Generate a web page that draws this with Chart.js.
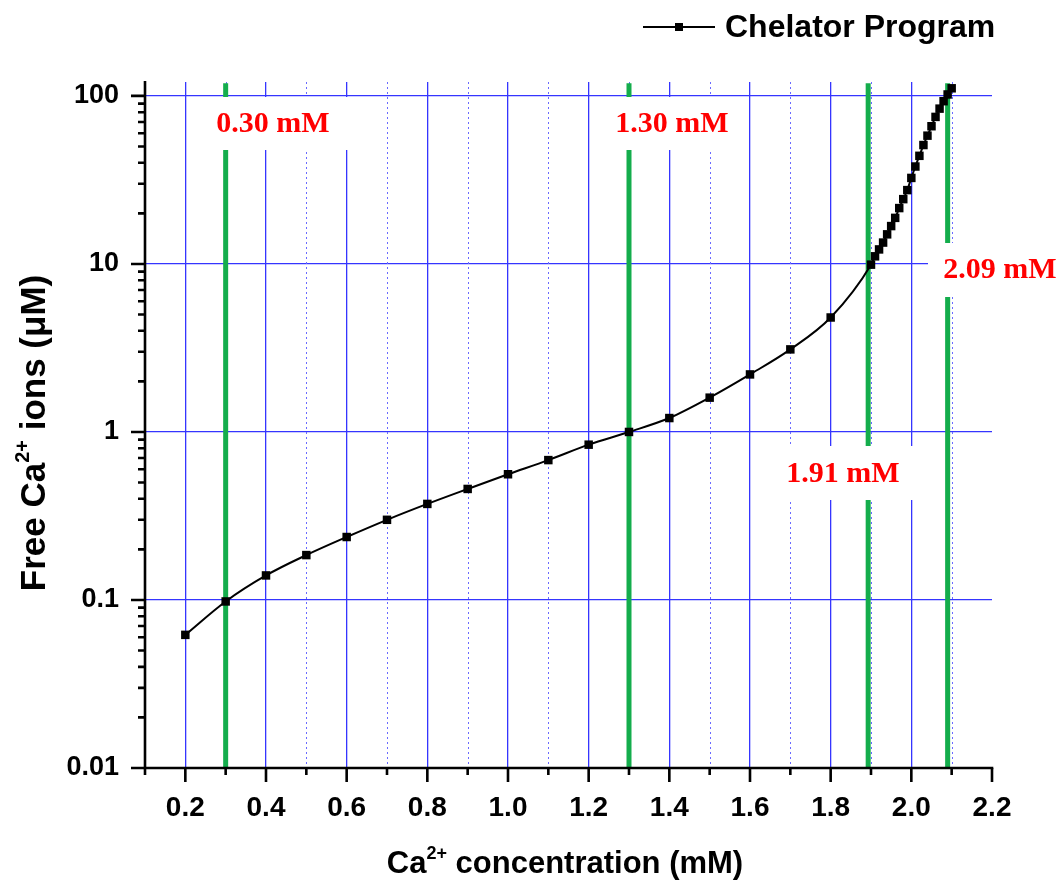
<!DOCTYPE html>
<html><head><meta charset="utf-8">
<script src="https://cdn.jsdelivr.net/npm/chart.js@4.4.1/dist/chart.umd.min.js"></script>
<style>html,body{margin:0;padding:0;background:#fff;}canvas{display:block;}</style>
</head><body>
<canvas id="c" width="1060" height="881"></canvas>
<script>
// ---- data ----
const caConc = [0.2,0.3,0.4,0.5,0.6,0.7,0.8,0.9,1.0,1.1,1.2,1.3,1.4,1.5,1.6,1.7,1.8,
  1.90,1.91,1.92,1.93,1.94,1.95,1.96,1.97,1.98,1.99,2.00,2.01,2.02,2.03,2.04,2.05,2.06,2.07,2.08,2.09,2.10];
const freeCa = [0.062,0.098,0.14,0.185,0.237,0.30,0.373,0.458,0.56,0.68,0.84,1.0,1.21,1.6,2.2,3.1,4.8,
  9.9,11.1,12.2,13.4,15.0,16.8,18.8,21.5,24.3,27.5,32.5,38,44,51,58,66,75,84,93,102,111];
const markerX = [0.30,1.30,1.893,2.09];
const markerLabels = ['0.30 mM','1.30 mM','1.91 mM','2.09 mM'];
const xTickValues = [0.2,0.4,0.6,0.8,1.0,1.2,1.4,1.6,1.8,2.0,2.2];
const xTickLabels = ['0.2','0.4','0.6','0.8','1.0','1.2','1.4','1.6','1.8','2.0','2.2'];
const xMinorValues = [0.1,0.3,0.5,0.7,0.9,1.1,1.3,1.5,1.7,1.9,2.1];
const yTickValues = [0.01,0.1,1,10,100];
const yTickLabels = ['0.01','0.1','1','10','100'];
const seriesName = 'Chelator Program';
const xTitle = ['Ca','2+',' concentration (mM)'];
const yTitle = ['Free Ca','2+',' ions (\u03BCM)'];

// ---- styling / layout ----
const BLUE = '#3535ff';
const GREEN = '#14ad4c';
const SANS = '"Liberation Sans", Arial, sans-serif';
const SERIF = '"Liberation Serif", "Times New Roman", serif';
const labelBoxes = [ // pixel boxes for the marker labels
  {x0:200,y0:97,x1:360,y1:150,tx:273,ty:124},
  {x0:598,y0:97,x1:746,y1:150,tx:672,ty:124},
  {x0:772,y0:446,x1:918,y1:500,tx:843,ty:474},
  {x0:928,y0:243,x1:1060,y1:297,tx:1000,ty:270}
];

const near = (a,b)=>Math.abs(a-b)<1e-6;

const datasets = [{
  label: seriesName,
  data: caConc.map((x,i)=>({x, y: freeCa[i]})),
  borderColor:'#000', backgroundColor:'#000', borderWidth:2,
  pointStyle:'rect', pointRadius:6, pointBorderWidth:0,
  cubicInterpolationMode:'monotone', fill:false
}];
markerX.forEach(mx=>{
  datasets.push({label:'m'+mx, data:[{x:mx,y:0.0101},{x:mx,y:119}], borderColor:GREEN, borderWidth:5,
    pointRadius:0, fill:false, tension:0});
});

const decor = {
  id:'decor',
  beforeDraw(chart){
    const ctx=chart.ctx; ctx.save(); ctx.fillStyle='#fff'; ctx.fillRect(0,0,chart.width,chart.height); ctx.restore();
  },
  beforeDatasetsDraw(chart){
    const ctx=chart.ctx, xs=chart.scales.x, a=chart.chartArea;
    ctx.save(); ctx.strokeStyle='#6a6aff'; ctx.lineWidth=1; ctx.setLineDash([2,3]);
    xMinorValues.forEach(v=>{ if (near(v,0.1)) return; const p=Math.round(xs.getPixelForValue(v))+0.5;
      ctx.beginPath(); ctx.moveTo(p,a.top); ctx.lineTo(p,a.bottom); ctx.stroke(); });
    ctx.restore();
  },
  afterDatasetsDraw(chart){
    const ctx=chart.ctx; ctx.save();
    labelBoxes.forEach((b,i)=>{
      ctx.fillStyle='#fff'; ctx.fillRect(b.x0,b.y0,b.x1-b.x0,b.y1-b.y0);
      ctx.fillStyle='#f00'; ctx.font='bold 30px '+SERIF; ctx.textAlign='center'; ctx.textBaseline='middle';
      ctx.fillText(markerLabels[i], b.tx, b.ty);
    });
    ctx.restore();
  },
  afterDraw(chart){
    const ctx=chart.ctx, xs=chart.scales.x, ys=chart.scales.y, a=chart.chartArea;
    ctx.save();
    ctx.strokeStyle='#000'; ctx.lineWidth=2.6; ctx.lineCap='butt';
    ctx.beginPath(); ctx.moveTo(a.left, a.top-1); ctx.lineTo(a.left, a.bottom+1.3);
    ctx.moveTo(a.left-1.3, a.bottom); ctx.lineTo(xs.getPixelForValue(2.2)+1.3, a.bottom); ctx.stroke();
    ctx.beginPath();
    xTickValues.forEach(v=>{const p=xs.getPixelForValue(v); ctx.moveTo(p,a.bottom); ctx.lineTo(p,a.bottom+14);});
    xMinorValues.forEach(v=>{const p=xs.getPixelForValue(v); ctx.moveTo(p,a.bottom); ctx.lineTo(p,a.bottom+7);});
    yTickValues.forEach(v=>{const p=ys.getPixelForValue(v); ctx.moveTo(a.left,p); ctx.lineTo(a.left-14,p);
      if (v<100) for(let k=2;k<=9;k++){const q=ys.getPixelForValue(v*k); ctx.moveTo(a.left,q); ctx.lineTo(a.left-7,q);} });
    ctx.stroke();
    const drawTitle=(parts,size,supSize,cx,cy,rot)=>{
      ctx.save(); ctx.translate(cx,cy); ctx.rotate(rot);
      ctx.fillStyle='#000'; ctx.textBaseline='alphabetic'; ctx.textAlign='left';
      ctx.font='bold '+size+'px '+SANS; const w0=ctx.measureText(parts[0]).width, w2=ctx.measureText(parts[2]).width;
      ctx.font='bold '+supSize+'px '+SANS; const w1=ctx.measureText(parts[1]).width;
      let x=-(w0+w1+w2)/2; const base=size*0.36;
      ctx.font='bold '+size+'px '+SANS; ctx.fillText(parts[0],x,base); x+=w0;
      ctx.font='bold '+supSize+'px '+SANS; ctx.fillText(parts[1],x,base-size*0.45); x+=w1;
      ctx.font='bold '+size+'px '+SANS; ctx.fillText(parts[2],x,base);
      ctx.restore();
    };
    drawTitle(xTitle,31,18,565,862,0);
    drawTitle(yTitle,35,20,32,433,-Math.PI/2);
    ctx.strokeStyle='#000'; ctx.lineWidth=2;
    ctx.beginPath(); ctx.moveTo(643,27); ctx.lineTo(715,27); ctx.stroke();
    ctx.fillStyle='#000'; ctx.fillRect(675,23,8,8);
    ctx.font='bold 32px '+SANS; ctx.textBaseline='middle'; ctx.textAlign='left';
    ctx.fillText(seriesName, 725, 28);
    ctx.restore();
  }
};

new Chart(document.getElementById('c'), {
  type:'line',
  data:{datasets},
  options:{
    responsive:false, animation:false, devicePixelRatio:1,
    layout:{padding:{top:82,right:68,left:0,bottom:0}},
    plugins:{legend:{display:false}, tooltip:{enabled:false}},
    scales:{
      x:{type:'linear', min:0.1, max:2.2,
        afterBuildTicks: s=>{ s.ticks = xMinorValues.concat(xTickValues).sort((p,q)=>p-q).map(v=>({value:v})); },
        afterFit: s=>{ s.height = 113; },
        border:{display:false},
        grid:{drawTicks:false,
          color: c=>{ const v=c.tick.value; if (near(v,2.2)) return 'rgba(0,0,0,0)';
            return xTickValues.some(t=>near(t,v)) ? BLUE : 'rgba(0,0,0,0)'; },
          lineWidth: 1.3
        },
        ticks:{autoSkip:false, maxRotation:0, padding:23, color:'#000',
          font:{family:SANS, size:28, weight:'bold'},
          callback: v=>{ const i=xTickValues.findIndex(t=>near(t,v)); return i>=0 ? xTickLabels[i] : ''; }
        }
      },
      y:{type:'logarithmic', min:0.01, max:121,
        afterBuildTicks: s=>{ s.ticks = yTickValues.map(v=>({value:v})); },
        afterFit: s=>{ s.width = 145; },
        border:{display:false},
        grid:{drawTicks:false, color: BLUE, lineWidth:1.3},
        ticks:{autoSkip:false, padding:26, color:'#000',
          font:{family:SANS, size:27, weight:'bold'},
          callback: v=>{ const i=yTickValues.findIndex(t=>near(t,v)); return i>=0 ? yTickLabels[i] : ''; }
        }
      }
    }
  },
  plugins:[decor]
});
</script>
</body></html>
